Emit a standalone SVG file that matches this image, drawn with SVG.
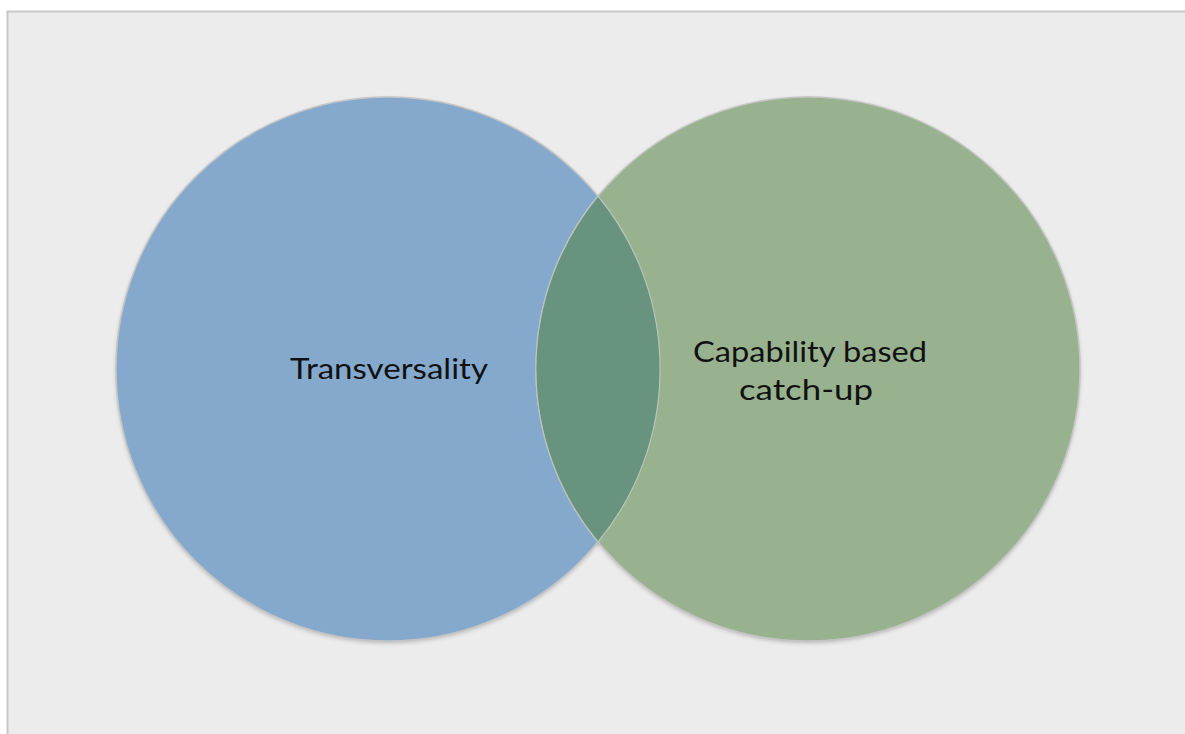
<svg xmlns="http://www.w3.org/2000/svg" width="1185" height="734" viewBox="0 0 1185 734">
  <defs>
    <filter id="blur" x="-10%" y="-10%" width="120%" height="125%">
      <feGaussianBlur stdDeviation="2"/>
    </filter>
    <clipPath id="left-disc">
      <circle cx="388" cy="369" r="272"/>
    </clipPath>
  </defs>
  <style>
    .set { stroke: #c4c4c4; stroke-width: 1.5; }
    .shade { fill: #000000; fill-opacity: 0.22; }
    .edge { fill: none; stroke: #b8c4bc; stroke-width: 1.2; }
    .label { font-family: "Lato", "Open Sans", "Liberation Sans", sans-serif; font-size: 29px; fill: #111111; text-anchor: middle; }
  </style>
  <rect x="0" y="0" width="1185" height="734" fill="#ffffff"/>
  <rect x="7.5" y="11.5" width="1185" height="730" fill="#ececec" stroke="#c8c8c8" stroke-width="2"/>

  <!-- soft drop shadows under both sets -->
  <g id="shadows" filter="url(#blur)">
    <circle class="shade" cx="388" cy="371" r="272"/>
    <circle class="shade" cx="808" cy="371" r="272"/>
  </g>

  <g id="transversality">
    <circle class="set" cx="388" cy="369" r="272" fill="#84a9cd"/>
  </g>
  <g id="capability">
    <circle class="set" cx="808" cy="369" r="272" fill="#98b28f"/>
  </g>
  <!-- intersection of the two sets, with both faint edges -->
  <g id="overlap">
    <circle cx="808" cy="369" r="272" fill="#68937f" clip-path="url(#left-disc)"/>
    <path class="edge" d="M 598 196 A 272 272 0 0 0 598 542"/>
    <path class="edge" d="M 598 196 A 272 272 0 0 1 598 542"/>
  </g>

  <g id="labels">
    <text class="label" x="389" y="379" textLength="198" lengthAdjust="spacingAndGlyphs">Transversality</text>
    <text class="label" x="810" y="362" textLength="234" lengthAdjust="spacingAndGlyphs">Capability based</text>
    <text class="label" x="806" y="400" textLength="134" lengthAdjust="spacingAndGlyphs">catch-up</text>
  </g>
</svg>
